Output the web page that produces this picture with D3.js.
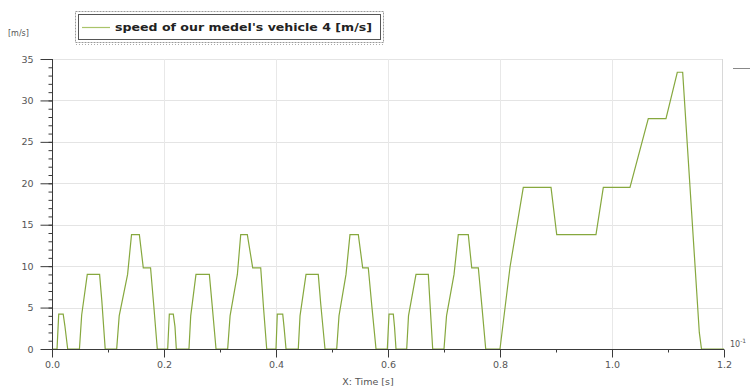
<!DOCTYPE html>
<html><head><meta charset="utf-8">
<script src="https://cdn.jsdelivr.net/npm/d3@7"></script>
<style>body{margin:0;background:#fff;}svg{display:block;}</style>
</head><body>
<svg id="c" width="750" height="390"></svg>
<script>
// ---- data ----
const seriesName = "speed of our medel's vehicle 4 [m/s]";
const yUnit = "[m/s]";
const xTitle = "X: Time [s]";
const timeS = [
  0, 0.009, 0.012, 0.020, 0.023, 0.028,
  0.049, 0.053, 0.063, 0.085, 0.089, 0.095,
  0.1155, 0.120, 0.135, 0.142, 0.156, 0.163, 0.176, 0.182, 0.188,
  0.2066, 0.2095, 0.2166, 0.2196, 0.222,
  0.2446, 0.2477, 0.2571, 0.281, 0.2857, 0.2929,
  0.3137, 0.318, 0.331, 0.337, 0.3488, 0.3584, 0.3727, 0.3777, 0.3834,
  0.400, 0.4023, 0.412, 0.4143, 0.4179,
  0.4398, 0.4429, 0.4536, 0.4755, 0.4798, 0.4875,
  0.5084, 0.5125, 0.525, 0.5321, 0.547, 0.5548, 0.5648, 0.5714, 0.5786,
  0.5988, 0.6018, 0.6095, 0.6116, 0.6143,
  0.6334, 0.6366, 0.650, 0.672, 0.675, 0.6798,
  0.700, 0.7045, 0.7179, 0.7255, 0.7434, 0.7495, 0.7613, 0.7679, 0.7745,
  0.800, 0.8179, 0.8416, 0.8911, 0.9013, 0.9714, 0.9845, 1.0321, 1.0648, 1.0964, 1.1166, 1.1262, 1.1559, 1.1598, 1.2
];
const speed = [
  0, 0, 4.2, 4.2, 2.8, 0,
  0, 4.1, 9.0, 9.0, 5.8, 0,
  0, 4.0, 9.0, 13.8, 13.8, 9.8, 9.8, 5.0, 0,
  0, 4.2, 4.2, 2.7, 0,
  0, 4.0, 9.0, 9.0, 5.5, 0,
  0, 4.0, 9.0, 13.8, 13.8, 9.8, 9.8, 5.0, 0,
  0, 4.2, 4.2, 2.7, 0,
  0, 4.0, 9.0, 9.0, 5.5, 0,
  0, 4.0, 9.0, 13.8, 13.8, 9.8, 9.8, 5.0, 0,
  0, 4.2, 4.2, 2.7, 0,
  0, 4.0, 9.0, 9.0, 5.5, 0,
  0, 4.0, 9.0, 13.8, 13.8, 9.8, 9.8, 5.0, 0,
  0, 9.9, 19.5, 19.5, 13.8, 13.8, 19.5, 19.5, 27.8, 27.8, 33.4, 33.4, 2.0, 0, 0
];
const xTicks = [0, 0.2, 0.4, 0.6, 0.8, 1.0, 1.2];
const xTickLabels = ["0.0", "0.2", "0.4", "0.6", "0.8", "1.0", "1.2"];
const yTicks = [0, 5, 10, 15, 20, 25, 30, 35];

// ---- drawing ----
const svg = d3.select("#c");
const L = 52, R = 724, T = 59, B = 349;
const x = d3.scaleLinear().domain([0, 1.2]).range([L, R]);
const y = d3.scaleLinear().domain([0, 35]).range([B, T]);
const font = "'DejaVu Sans', Verdana, sans-serif";

// grid
const g = svg.append("g");
g.selectAll("line.h").data(yTicks.filter(d => d > 0)).join("line")
  .attr("x1", L).attr("x2", 722.5)
  .attr("y1", d => Math.round(y(d)) + 0.5).attr("y2", d => Math.round(y(d)) + 0.5)
  .attr("stroke", "#e4e4e4").attr("stroke-width", 1);
g.selectAll("line.v").data(xTicks.filter(d => d > 0)).join("line")
  .attr("x1", d => d === 1.2 ? 722.5 : Math.round(x(d)) + 0.5)
  .attr("x2", d => d === 1.2 ? 722.5 : Math.round(x(d)) + 0.5)
  .attr("y1", T).attr("y2", B)
  .attr("stroke", d => d === 1.2 ? "#d8d8d8" : "#e8e8e8").attr("stroke-width", 1);

// series line
const pts = timeS.map((t, i) => [t, speed[i]]);
svg.append("path").datum(pts)
  .attr("d", d3.line().x(d => x(d[0])).y(d => y(d[1])))
  .attr("fill", "none").attr("stroke", "#86a83e").attr("stroke-width", 1.2);

// y axis
const yAxis = d3.axisLeft(y).tickValues(yTicks).tickSize(12).tickPadding(7);
const ya = svg.append("g").attr("transform", `translate(${L + 0.5},0)`).call(yAxis);
const yMinor = d3.axisLeft(y).tickValues(d3.range(0, 35.01, 1)).tickSize(4).tickFormat("");
svg.append("g").attr("transform", `translate(${L + 0.5},0)`).call(yMinor)
  .call(s => s.select(".domain").remove());
// x axis
const xAxis = d3.axisBottom(x).tickValues(xTicks).tickSize(8).tickPadding(4)
  .tickFormat((d, i) => xTickLabels[i]);
const xa = svg.append("g").attr("transform", `translate(0,${B + 0.5})`).call(xAxis);
const xMinor = d3.axisBottom(x).tickValues([0.1, 0.3, 0.5, 0.7, 0.9, 1.1]).tickSize(3).tickFormat("");
svg.append("g").attr("transform", `translate(0,${B + 0.5})`).call(xMinor)
  .call(s => s.select(".domain").remove());

svg.selectAll(".domain").attr("stroke", "#3a3a3a");
svg.selectAll(".tick line").attr("stroke", "#3a3a3a");
svg.selectAll(".tick text").attr("font-family", font).attr("font-size", 9.5).attr("fill", "#555");
ya.select(".domain").attr("d", `M0,${T}V${B}`);
xa.select(".domain").attr("d", `M${L},0H${R}`);

// titles
svg.append("text").attr("x", 8).attr("y", 36).text(yUnit)
  .attr("font-family", font).attr("font-size", 8).attr("fill", "#555");
svg.append("text").attr("x", 368).attr("y", 385).attr("text-anchor", "middle").text(xTitle)
  .attr("font-family", font).attr("font-size", 9.5).attr("fill", "#555");

// legend
const lg = svg.append("g");
lg.append("rect").attr("x", 75.5).attr("y", 11.5).attr("width", 308).attr("height", 31)
  .attr("fill", "#fff").attr("stroke", "#999").attr("stroke-dasharray", "2,1");
lg.append("rect").attr("x", 78.5).attr("y", 14.5).attr("width", 302).attr("height", 25)
  .attr("fill", "#fff").attr("stroke", "#555");
lg.append("line").attr("x1", 76).attr("x2", 383).attr("y1", 44.5).attr("y2", 44.5)
  .attr("stroke", "#aaa").attr("stroke-dasharray", "1,2");
lg.append("line").attr("x1", 82).attr("x2", 110).attr("y1", 27.5).attr("y2", 27.5)
  .attr("stroke", "#a9c46a").attr("stroke-width", 1.2);
lg.append("text").attr("x", 115).attr("y", 31).text(seriesName)
  .attr("font-family", font).attr("font-size", 10).attr("font-weight", "bold")
  .attr("fill", "#222").attr("textLength", 257).attr("lengthAdjust", "spacingAndGlyphs");

// right side marks
svg.append("line").attr("x1", 733).attr("x2", 750).attr("y1", 68.5).attr("y2", 68.5)
  .attr("stroke", "#888");
const ex = svg.append("text").attr("x", 730).attr("y", 347)
  .attr("font-family", font).attr("font-size", 8).attr("fill", "#555");
ex.append("tspan").text("10");
ex.append("tspan").attr("dy", -4).attr("font-size", 6).text("-1");
</script>
</body></html>
